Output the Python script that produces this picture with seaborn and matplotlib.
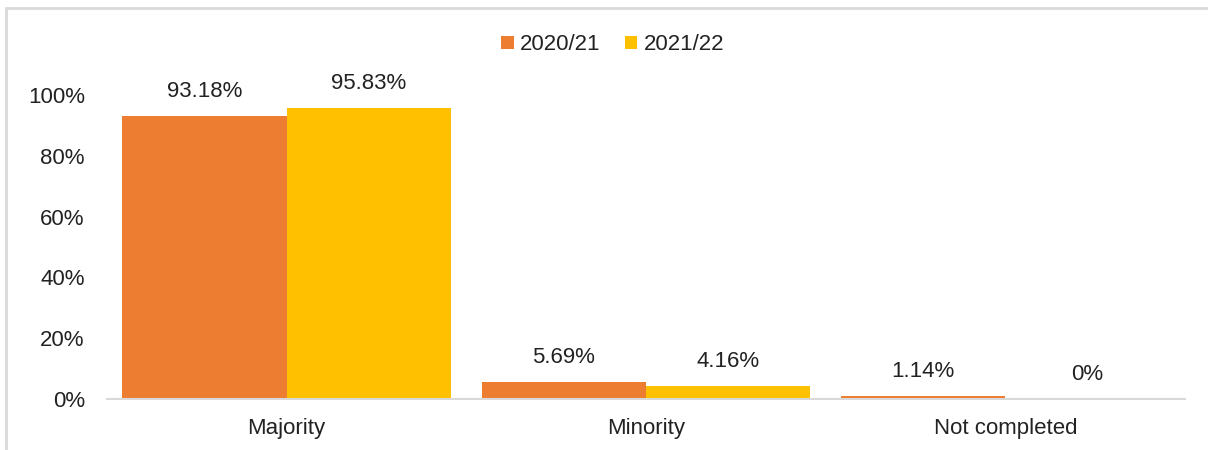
import pandas as pd
import seaborn as sns
import matplotlib.pyplot as plt
from matplotlib.patches import Rectangle
from matplotlib.ticker import PercentFormatter

categories = ['Majority', 'Minority', 'Not completed']
years = ['2020/21', '2021/22']
share_2020 = [93.18, 5.69, 1.14]
share_2021 = [95.83, 4.16, 0.0]
labels_2020 = ['93.18%', '5.69%', '1.14%']
labels_2021 = ['95.83%', '4.16%', '0%']

colors = ['#ED7D31', '#FFC000']

df = pd.DataFrame({
    'category': categories * 2,
    'year': [years[0]] * 3 + [years[1]] * 3,
    'share': share_2020 + share_2021,
})

sns.set_theme(style='white')
plt.rcParams['font.family'] = ['Liberation Sans', 'DejaVu Sans']

fig = plt.figure(figsize=(12.08, 4.5), dpi=100)
ax = fig.add_axes([107 / 1208, 1 - 399 / 450, (1185 - 107) / 1208, (399 - 95) / 450])

sns.barplot(data=df, x='category', y='share', hue='year', palette=colors,
            order=categories, hue_order=years, width=0.915, saturation=1,
            linewidth=0, ax=ax)

ax.set_ylim(0, 100)
ax.set_xlim(-0.5, 2.5)
ax.set_yticks([0, 20, 40, 60, 80, 100])
ax.yaxis.set_major_formatter(PercentFormatter(decimals=0))
ax.set_xlabel('')
ax.set_ylabel('')
ax.tick_params(axis='y', length=0, pad=16, labelsize=16, colors='#222222')
ax.tick_params(axis='x', length=0, pad=14, labelsize=16, colors='#222222')

for side in ['top', 'right', 'left']:
    ax.spines[side].set_visible(False)
ax.spines['bottom'].set_color('#D9D9D9')
ax.spines['bottom'].set_linewidth(1.5)

for cont, labs in zip(ax.containers, [labels_2020, labels_2021]):
    ax.bar_label(cont, labels=labs, padding=10, fontsize=16, color='#222222',
                 clip_on=False)

leg = ax.legend(loc='center', bbox_to_anchor=((613 - 107) / (1185 - 107), 1 + (95 - 45) / (399 - 95)),
                ncol=2, frameon=False, fontsize=16, handlelength=0.55,
                handleheight=0.55, handletextpad=0.3, columnspacing=1.1)
for t in leg.get_texts():
    t.set_color('#222222')

# outer chart frame
fig.patches.append(Rectangle((6 / 1208, -0.1), 1.2, 1 - 8 / 450 + 0.1,
                             transform=fig.transFigure, fill=False,
                             edgecolor='#D9D9D9', linewidth=2, zorder=0))

fig.savefig('out.png', dpi=100)
